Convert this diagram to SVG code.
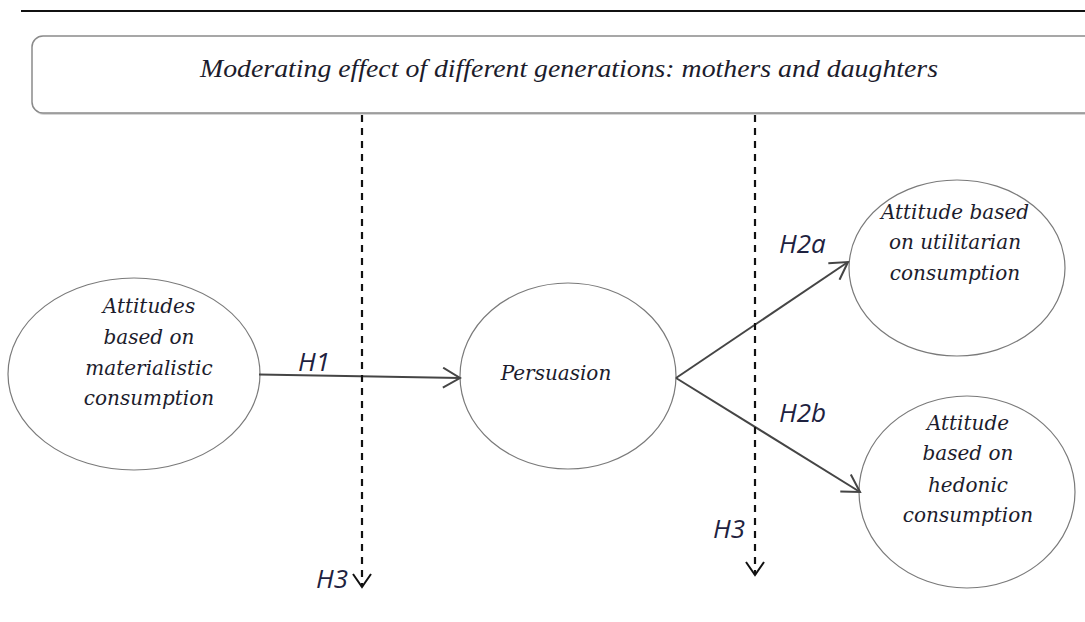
<svg xmlns="http://www.w3.org/2000/svg" width="1085" height="622" viewBox="0 0 1085 622">
<style>
.node ellipse{fill:#fff;stroke:#7a7a7a;stroke-width:1.2}
.nt{font-family:"DejaVu Serif","Liberation Serif",serif;font-style:italic;font-size:20px;fill:#1c1c2c;text-anchor:middle}
.lbl{font-family:"Open Sans","Liberation Sans",sans-serif;font-style:italic;font-size:26px;fill:#1e2240}
.solid{stroke:#454545;stroke-width:2;fill:none}
.dash{stroke:#111;stroke-width:2.2;fill:none;stroke-dasharray:7 6}
</style>
<defs>
<marker id="ah" viewBox="0 0 20 22" refX="18" refY="11" markerWidth="20" markerHeight="22" markerUnits="userSpaceOnUse" orient="auto">
<path d="M1,1 L18,11 L1,21" fill="none" stroke="#454545" stroke-width="2" stroke-dasharray="none"/>
</marker>
<marker id="ahd" viewBox="0 0 16 20" refX="14" refY="10" markerWidth="16" markerHeight="20" markerUnits="userSpaceOnUse" orient="auto">
<path d="M1,1 L14,10 L1,19" fill="none" stroke="#111" stroke-width="2" stroke-dasharray="none"/>
</marker>
</defs>
<rect width="1085" height="622" fill="#fff"/>
<line x1="21" y1="11" x2="1085" y2="11" stroke="#111" stroke-width="2"/>
<g id="moderator">
<rect x="33" y="39" width="1080" height="76" rx="11" fill="#d6d6d6"/>
<rect x="32" y="36" width="1080" height="77" rx="11" fill="#fff" stroke="#8a8a8a" stroke-width="1.5"/>
<text x="200" y="77" textLength="738" lengthAdjust="spacingAndGlyphs" style="font-family:'Liberation Serif',serif;font-style:italic;font-size:26px;fill:#1c1c2c">Moderating effect of different generations: mothers and daughters</text>
</g>
<g id="materialistic" class="node">
<ellipse cx="134" cy="374" rx="126" ry="96"/>
<text class="nt" x="149" y="313">Attitudes</text>
<text class="nt" x="149" y="344">based on</text>
<text class="nt" x="149" y="375">materialistic</text>
<text class="nt" x="149" y="405">consumption</text>
</g>
<g id="persuasion" class="node">
<ellipse cx="568" cy="376" rx="108" ry="93"/>
<text class="nt" x="556" y="380">Persuasion</text>
</g>
<g id="utilitarian" class="node">
<ellipse cx="957" cy="268" rx="108" ry="88"/>
<text class="nt" x="955" y="219">Attitude based</text>
<text class="nt" x="955" y="249">on utilitarian</text>
<text class="nt" x="955" y="280">consumption</text>
</g>
<g id="hedonic" class="node">
<ellipse cx="967" cy="492" rx="108" ry="96"/>
<text class="nt" x="968" y="430">Attitude</text>
<text class="nt" x="968" y="460">based on</text>
<text class="nt" x="968" y="492">hedonic</text>
<text class="nt" x="968" y="522">consumption</text>
</g>
<g id="connectors">
<line class="solid" x1="259" y1="374.5" x2="460" y2="378" marker-end="url(#ah)"/>
<line class="solid" x1="676" y1="378" x2="848" y2="262" marker-end="url(#ah)"/>
<line class="solid" x1="676" y1="378" x2="860" y2="492" marker-end="url(#ah)"/>
<line class="dash" x1="362" y1="115" x2="362" y2="587" marker-end="url(#ahd)"/>
<line class="dash" x1="755" y1="115" x2="755" y2="575" marker-end="url(#ahd)"/>
<text class="lbl" x="298" y="371">H1</text>
<text class="lbl" x="779" y="253">H2a</text>
<text class="lbl" x="779" y="422">H2b</text>
<text class="lbl" x="713" y="538">H3</text>
<text class="lbl" x="316" y="588">H3</text>
</g>
</svg>
